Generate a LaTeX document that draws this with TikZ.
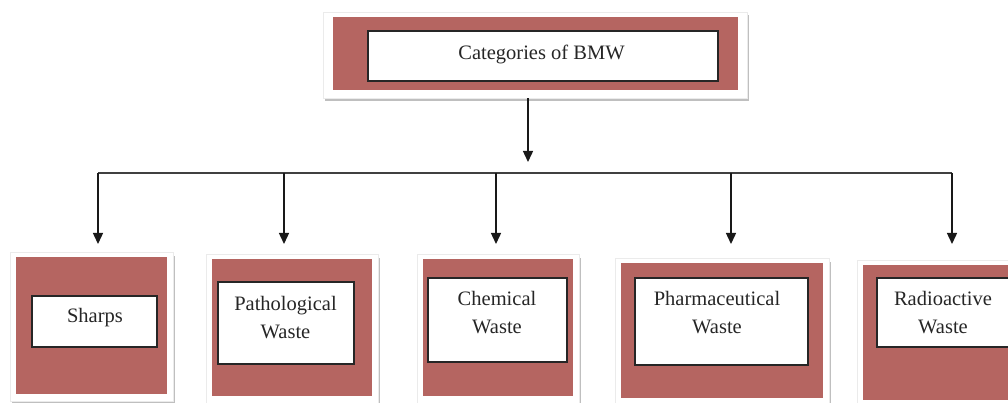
\documentclass[tikz,border=0pt]{standalone}
\usepackage{fontspec}
\setmainfont{Liberation Serif}
\usetikzlibrary{arrows.meta,shadows}
\definecolor{bmwred}{RGB}{181,101,97}
\tikzset{
 frame/.style={rectangle, fill=white, draw=black!8, line width=0.6pt, inner sep=0pt,
   drop shadow={shadow xshift=1.5pt, shadow yshift=-3pt, fill=black, opacity=0.25}},
 redbox/.style={rectangle, fill=bmwred, draw=none, inner sep=0pt},
 whitebox/.style={rectangle, fill=white, draw=black!85, line width=1.3pt, inner sep=0pt},
 lbl/.style={font=\fontsize{20.5}{28}\selectfont, align=center, inner sep=0pt, text=black!85},
 arr/.style={-{Triangle[width=10pt,length=11pt]}, line width=1.4pt, draw=black!90},
 bus/.style={line width=1.4pt, draw=black!75},
}
\begin{document}
\begin{tikzpicture}[x=1pt,y=-1pt]
\useasboundingbox (0,0) rectangle (1008,403);
\clip (0,0) rectangle (1008,403);
% top box
\node[frame, minimum width=424pt, minimum height=86pt] (f0) at (535,55) {};
\node[redbox, minimum width=405pt, minimum height=73pt] (r0) at (535.5,53.5) {};
\node[whitebox, minimum width=350pt, minimum height=50pt] (i0) at (543,56) {};
\node[lbl, anchor=base] (t0) at (541.5,59.5) {Categories of BMW};
% bottom boxes
\node[frame, minimum width=163pt, minimum height=149pt] (f1) at (91.5,327) {};
\node[redbox, minimum width=151pt, minimum height=137pt] (r1) at (91.5,325.5) {};
\node[whitebox, minimum width=125pt, minimum height=51pt] (i1) at (94.5,321.5) {};
\node[lbl, anchor=base] (t1) at (95,322) {Sharps};

\node[frame, minimum width=172pt, minimum height=149pt] (f2) at (292,329) {};
\node[redbox, minimum width=160pt, minimum height=137pt] (r2) at (292,327.5) {};
\node[whitebox, minimum width=136pt, minimum height=82pt] (i2) at (286,323) {};
\node[lbl, anchor=north] (t2) at (285.5,296) {Pathological\\Waste};

\node[frame, minimum width=162pt, minimum height=149pt] (f3) at (498,329) {};
\node[redbox, minimum width=150pt, minimum height=137pt] (r3) at (498,327.5) {};
\node[whitebox, minimum width=139pt, minimum height=84pt] (i3) at (497.5,320) {};
\node[lbl, anchor=north] (t3) at (497,291) {Chemical\\Waste};

\node[frame, minimum width=214pt, minimum height=147pt] (f4) at (722,332) {};
\node[redbox, minimum width=202pt, minimum height=135pt] (r4) at (722,330.5) {};
\node[whitebox, minimum width=173pt, minimum height=87pt] (i4) at (721.5,321.5) {};
\node[lbl, anchor=north] (t4) at (717,291) {Pharmaceutical\\Waste};

\node[frame, minimum width=166pt, minimum height=147pt] (f5) at (940,334) {};
\node[redbox, minimum width=154pt, minimum height=135pt] (r5) at (940,332.5) {};
\node[whitebox, minimum width=143pt, minimum height=69pt] (i5) at (948.5,312.5) {};
\node[lbl, anchor=north] (t5) at (943,291) {Radioactive\\Waste};
% connectors
\coordinate (tipT) at (528,162);
\coordinate (b1) at (98,173);
\coordinate (b2) at (284,173);
\coordinate (b3) at (496,173);
\coordinate (b4) at (731,173);
\coordinate (b5) at (952,173);
\coordinate (a1) at (98,244);
\coordinate (a2) at (284,244);
\coordinate (a3) at (496,244);
\coordinate (a4) at (731,244);
\coordinate (a5) at (952,244);
\draw[arr] (f0.south -| tipT) -- (tipT);
\draw[bus] (b1) -- (b5);
\draw[arr] (b1) -- (a1);
\draw[arr] (b2) -- (a2);
\draw[arr] (b3) -- (a3);
\draw[arr] (b4) -- (a4);
\draw[arr] (b5) -- (a5);
\end{tikzpicture}
\end{document}
